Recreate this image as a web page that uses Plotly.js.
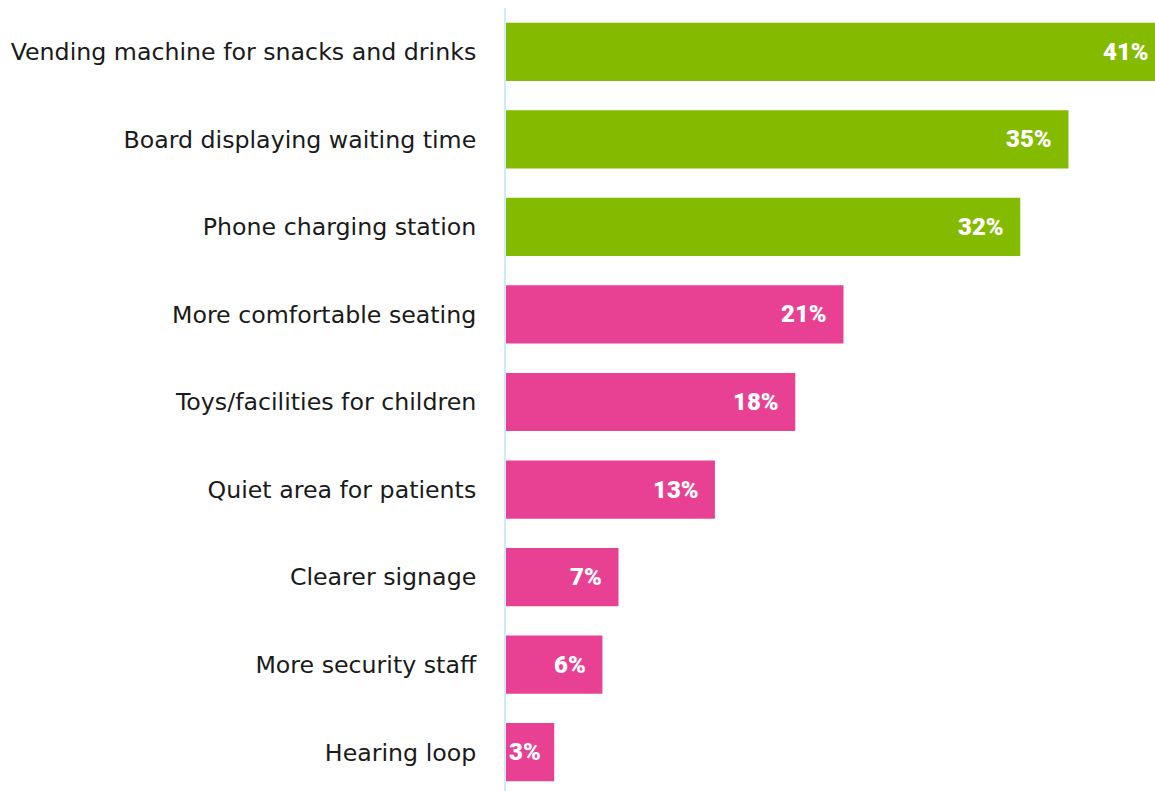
<!DOCTYPE html>
<html>
<head>
<meta charset="utf-8">
<script src="https://cdn.plot.ly/plotly-3.0.1.min.js"></script>
<style>
html, body { margin: 0; padding: 0; overflow: hidden; background: #fff; }
#chart { width: 1180px; height: 796px; }
</style>
</head>
<body>
<div id="chart"></div>
<script>
const categories = [
  "Vending machine for snacks and drinks",
  "Board displaying waiting time",
  "Phone charging station",
  "More comfortable seating",
  "Toys/facilities for children",
  "Quiet area for patients",
  "Clearer signage",
  "More security staff",
  "Hearing loop"
];
const values = [41, 35, 32, 21, 18, 13, 7, 6, 3];
const groups = ["top", "top", "top", "other", "other", "other", "other", "other", "other"];

const GREEN = "#84BA00";
const PINK = "#E84194";
const colors = groups.map(g => g === "top" ? GREEN : PINK);

const bar = {
  type: "bar",
  orientation: "h",
  x: values,
  y: categories,
  marker: { color: colors, line: { width: 0 } },
  hoverinfo: "none",
  cliponaxis: true
};

const annotations = values.map((v, i) => {
  const small = v < 5;
  return {
    x: small ? 0 : v,
    y: categories[i],
    xref: "x",
    yref: "y",
    text: v + "%",
    showarrow: false,
    xanchor: small ? "left" : "right",
    yanchor: "middle",
    xshift: small ? 1 : -14,
    font: { family: "Roboto", size: 24, color: "#ffffff", weight: 900 }
  };
});

const layout = {
  width: 1180,
  height: 796,
  margin: { l: 506, r: 0, t: 8, b: 0, pad: 0 },
  paper_bgcolor: "#ffffff",
  plot_bgcolor: "#ffffff",
  bargap: 0.335,
  showlegend: false,
  xaxis: {
    range: [0, 41.94],
    showgrid: false,
    zeroline: false,
    showline: false,
    showticklabels: false,
    ticks: "",
    fixedrange: true
  },
  yaxis: {
    autorange: "reversed",
    showgrid: false,
    zeroline: false,
    showline: true,
    linecolor: "#CDEBFB",
    linewidth: 2,
    ticks: "",
    ticklabelstandoff: 23,
    tickfont: { family: "DejaVu Sans", size: 23.7, color: "#1a1a1a" },
    fixedrange: true
  },
  annotations: annotations,
  font: { family: "DejaVu Sans" }
};

Plotly.newPlot("chart", [bar], layout, { displayModeBar: false, staticPlot: true });
</script>
</body>
</html>
